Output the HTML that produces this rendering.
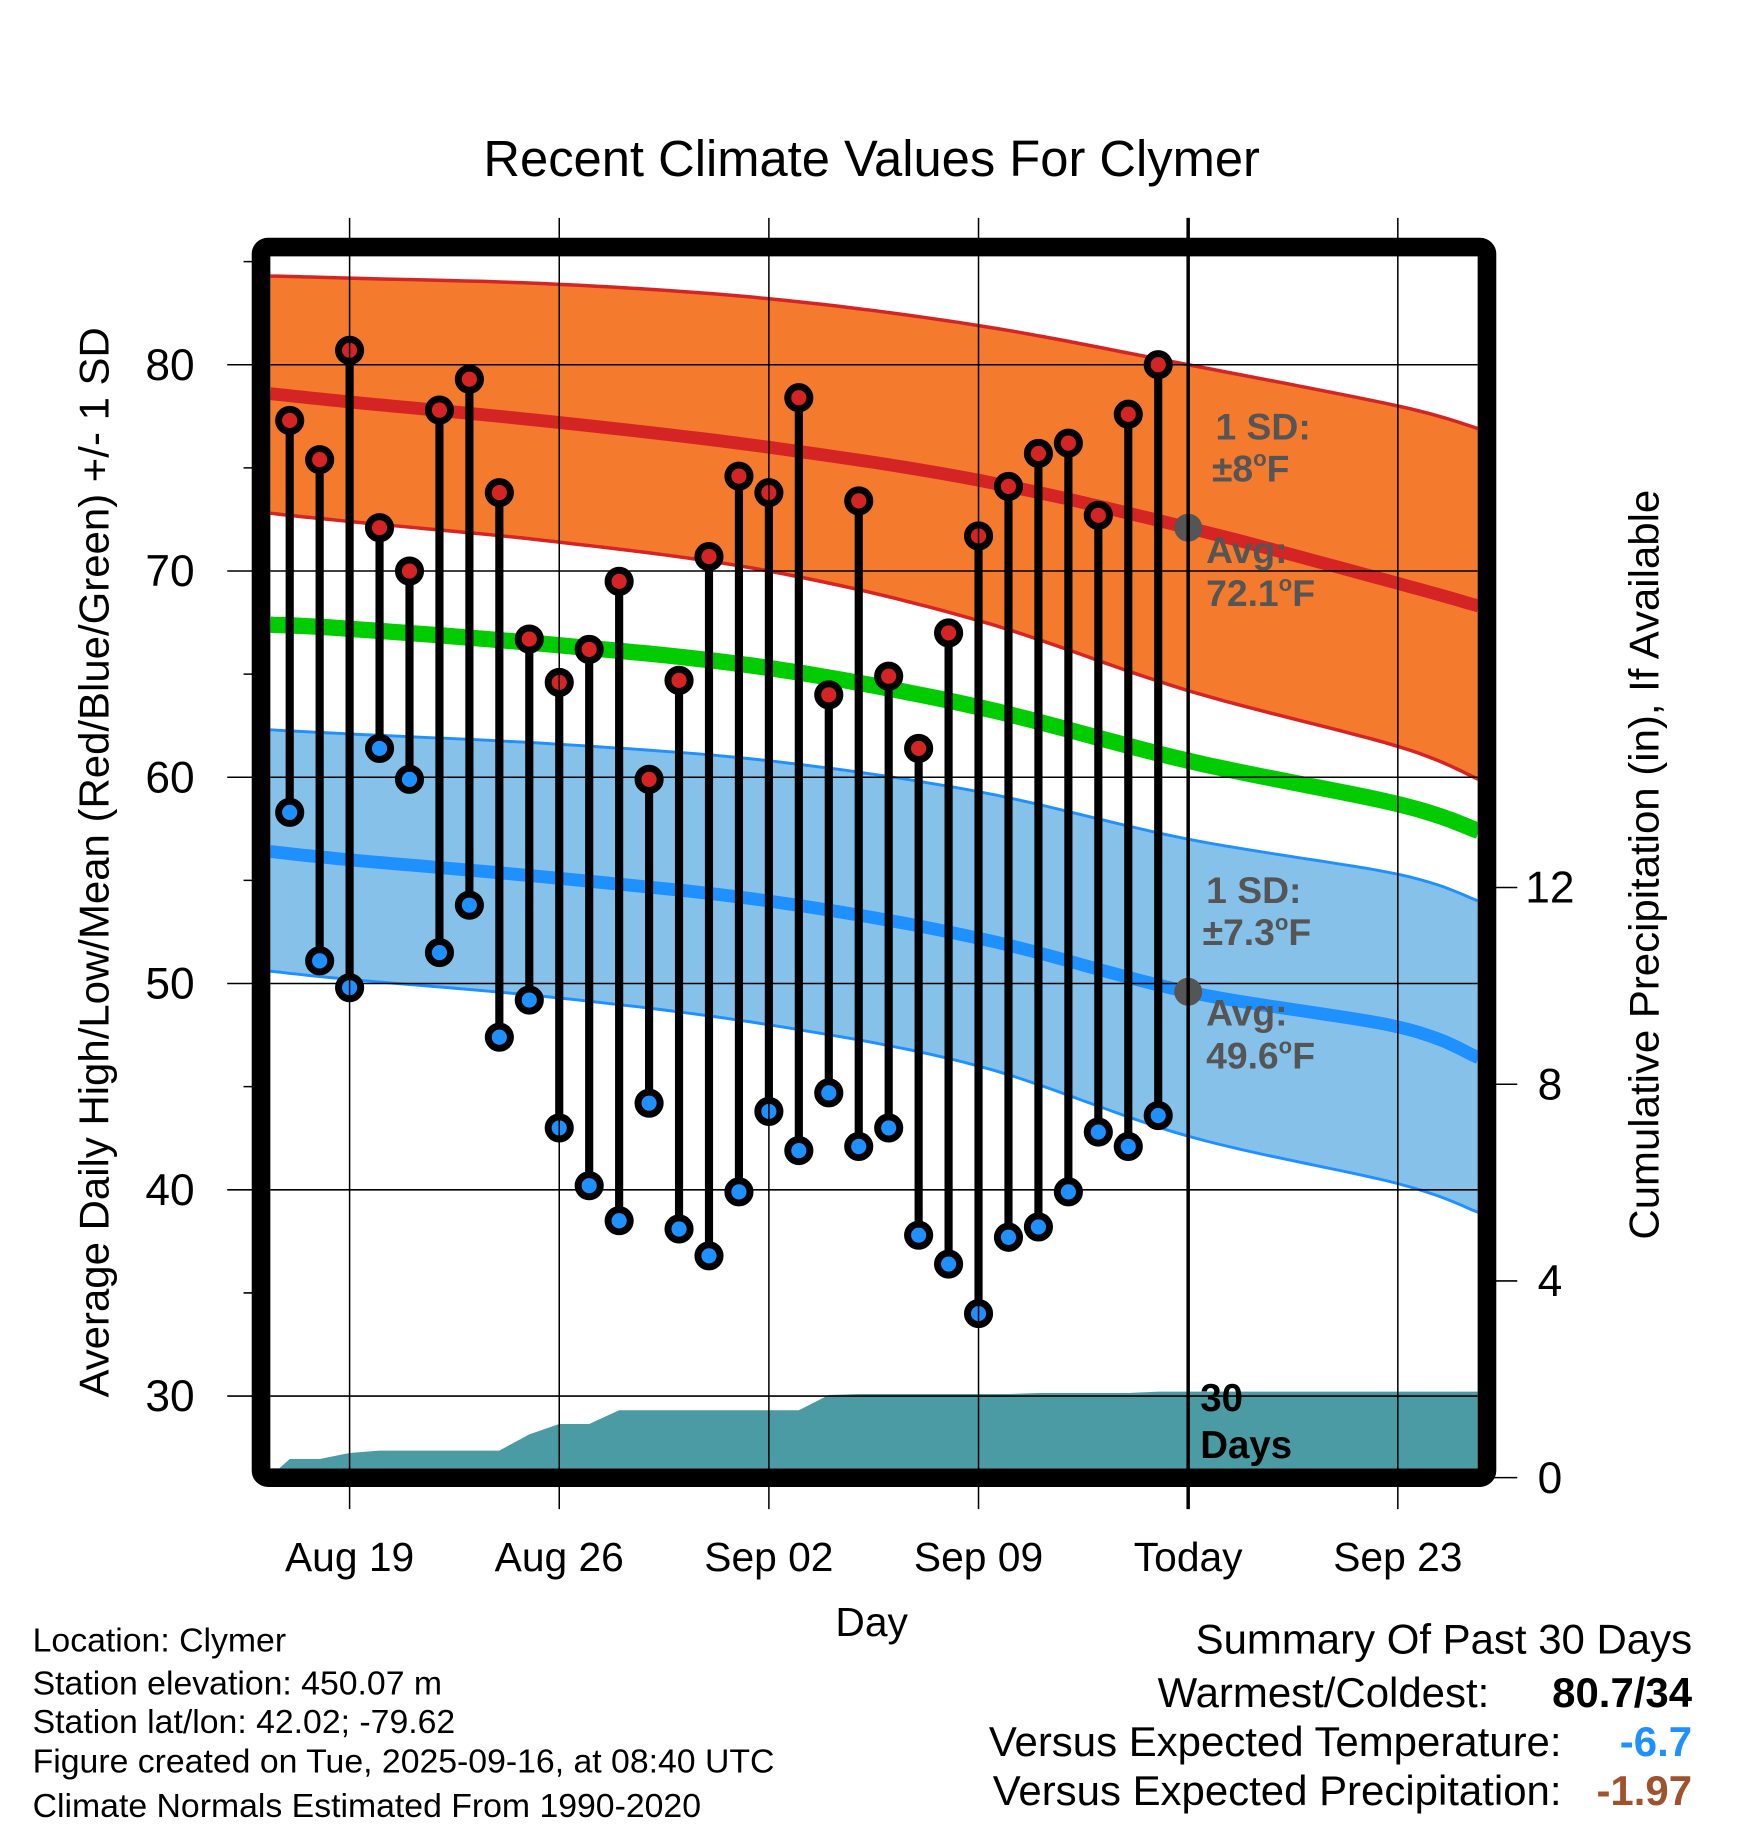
<!DOCTYPE html>
<html><head><meta charset="utf-8"><style>
html,body{margin:0;padding:0;background:#fff}
svg{display:block}
text{font-family:"Liberation Sans",Arial,sans-serif}
</style></head><body>
<svg id="chart" width="1748" height="1828" viewBox="0 0 1500 1568.65" xmlns="http://www.w3.org/2000/svg">
<text x="748" y="151" font-size="43.5" text-anchor="middle">Recent Climate Values For Clymer</text>
<g id="plot"></g>
</svg>
<script>
// ---- data ----
const obsDays = [-2,-1,0,1,2,3,4,5,6,7,8,9,10,11,12,13,14,15,16,17,18,19,20,21,22,23,24,25,26,27];
const highs = [77.3,75.4,80.7,72.1,70.0,77.8,79.3,73.8,66.7,64.6,66.2,69.5,59.9,64.7,70.7,74.6,73.8,78.4,64.0,73.4,64.9,61.4,67.0,71.7,74.1,75.7,76.2,72.7,77.6,80.0];
const lows = [58.3,51.1,49.8,61.4,59.9,51.5,53.8,47.4,49.2,43.0,40.2,38.5,44.2,38.1,36.8,39.9,43.8,41.9,44.7,42.1,43.0,37.8,36.4,34.0,37.7,38.2,39.9,42.8,42.1,43.6];
const precip = [0.38,0.38,0.5,0.55,0.55,0.55,0.55,0.55,0.88,1.09,1.09,1.37,1.37,1.37,1.37,1.37,1.37,1.37,1.68,1.70,1.70,1.70,1.70,1.70,1.70,1.72,1.72,1.72,1.72,1.75];
const normDays = [-2.65,0,7,14,21,28,35,37.7];
const normHigh = [78.6,78.2,77.2,76.0,74.4,72.1,69.4,68.3];
const normHighUp = [84.3,84.2,83.9,83.2,81.9,80.0,78.0,76.9];
const normHighLo = [72.8,72.4,71.4,70.0,67.6,64.2,61.5,59.9];
const normMean = [67.4,67.2,66.4,65.3,63.4,60.8,58.7,57.4];
const normLow = [56.4,56.0,55.1,54.0,52.2,49.6,47.9,46.4];
const normLowUp = [62.3,62.1,61.6,60.8,59.3,57.0,55.3,54.0];
const normLowLo = [50.6,50.2,49.3,48.0,46.0,42.6,40.3,38.9];
const xTickDays = [0,7,14,21,28,35];
const xTickLabels = ["Aug 19","Aug 26","Sep 02","Sep 09","Today","Sep 23"];
const yTicks = [30,40,50,60,70,80];
const yMinor = [35,45,55,65,75,85];
const pTicks = [0,4,8,12];
// ---- scales ----
const X0=232,X1=1268,Y0=220,Y1=1260;
const xs = d => 300 + 25.7*d;
const ys = t => 313 + (80 - t)*17.7;
const ps = p => 1268 - 42.2*p;
const NS="http://www.w3.org/2000/svg";
const g=document.getElementById('plot');
function mk(tag,attrs,parent){const e=document.createElementNS(NS,tag);for(const k in attrs)e.setAttribute(k,attrs[k]);(parent||g).appendChild(e);return e;}
const defs=mk('defs',{});
const cp=mk('clipPath',{id:'clip'},defs);
mk('rect',{x:X0,y:Y0,width:X1-X0,height:Y1-Y0},cp);
const inner=mk('g',{'clip-path':'url(#clip)'});


// smooth curve through normals (Catmull-Rom sampled)
function smooth(arr){
  const pts=normDays.map((d,i)=>[xs(d),ys(arr[i])]);
  const out=[];
  for(let i=0;i<pts.length-1;i++){
    const p0=pts[Math.max(0,i-1)],p1=pts[i],p2=pts[i+1],p3=pts[Math.min(pts.length-1,i+2)];
    for(let k=0;k<12;k++){const t=k/12,t2=t*t,t3=t2*t;
      const f=(a,b,c,d)=>0.5*((2*b)+(-a+c)*t+(2*a-5*b+4*c-d)*t2+(-a+3*b-3*c+d)*t3);
      out.push([f(p0[0],p1[0],p2[0],p3[0]),f(p0[1],p1[1],p2[1],p3[1])]);}
  }
  out.push(pts[pts.length-1]);
  return out;
}
function line(arr){return smooth(arr).map(p=>p[0].toFixed(1)+','+p[1].toFixed(1)).join(' ');}
function band(up,lo){return line(up)+' '+smooth(lo).reverse().map(p=>p[0].toFixed(1)+','+p[1].toFixed(1)).join(' ');}
let e=mk('polygon',{points:band(normHighUp,normHighLo),fill:'#f47a2e'},inner);


e=mk('polygon',{points:band(normLowUp,normLowLo),fill:'#85c1e9'},inner);


[[normHighUp,'#d42424',3],[normHighLo,'#d42424',3],[normHigh,'#d42424',11],[normLowUp,'#1e90ff',2.5],[normLowLo,'#1e90ff',2.5],[normLow,'#1e90ff',11],[normMean,'#00cc00',14]].forEach((s,i)=>{
  const l=mk('polyline',{points:line(s[0]),fill:'none',stroke:s[1],'stroke-width':s[2]},inner);
  
  
});
// precip
let pp=xs(-2.35)+','+Y1+' ';
obsDays.forEach((d,i)=>{pp+=xs(d)+','+ps(precip[i])+' ';});
pp+=X1+','+ps(precip[precip.length-1])+' '+X1+','+Y1;
e=mk('polygon',{points:pp,fill:'#4a9ba3'},inner);


// grid
yTicks.forEach(t=>{mk('line',{x1:X0,x2:X1,y1:ys(t),y2:ys(t),stroke:'#000','stroke-width':1.3},inner);});
xTickDays.forEach(d=>{mk('line',{x1:xs(d),x2:xs(d),y1:187,y2:1295,stroke:'#000','stroke-width':d===28?3:1.3});});
// stems
obsDays.forEach((d,i)=>{
  const s=mk('line',{x1:xs(d),x2:xs(d),y1:ys(highs[i]),y2:ys(lows[i]),stroke:'#000','stroke-width':7},inner);
  
  
});
obsDays.forEach((d,i)=>{
  const h=mk('circle',{cx:xs(d),cy:ys(highs[i]),r:9.5,fill:'#d42424',stroke:'#000','stroke-width':6},inner);
  
  
  const l=mk('circle',{cx:xs(d),cy:ys(lows[i]),r:9.5,fill:'#1e90ff',stroke:'#000','stroke-width':6},inner);
  
  
});
[[72.1],[49.6]].forEach(v=>{const c=mk('circle',{cx:xs(28),cy:ys(v[0]),r:12,fill:'#555'},inner);

});
// frame
e=mk('rect',{x:224,y:212,width:1052,height:1056,rx:6,fill:'none',stroke:'#000','stroke-width':16});


yTicks.forEach(t=>{
  mk('line',{x1:195,x2:224,y1:ys(t),y2:ys(t),stroke:'#000','stroke-width':1.3});
  const tx=mk('text',{x:167,y:ys(t)+13,'font-size':38,'text-anchor':'end'});tx.textContent=t;
  
  
});
yMinor.forEach(t=>{mk('line',{x1:209,x2:224,y1:ys(t),y2:ys(t),stroke:'#000','stroke-width':1.3});});
pTicks.forEach(p=>{
  mk('line',{x1:1276,x2:1302,y1:ps(p),y2:ps(p),stroke:'#000','stroke-width':1.3});
  const tx=mk('text',{x:1330,y:ps(p)+13,'font-size':38,'text-anchor':'middle'});tx.textContent=p;
  
  
});
xTickDays.forEach((d,i)=>{
  const tx=mk('text',{x:xs(d),y:1348,'font-size':35,'text-anchor':'middle'});tx.textContent=xTickLabels[i];
  
  
});
</script>
<svg style="position:absolute;left:0;top:0" width="1748" height="1828" viewBox="0 0 1500 1568.65" xmlns="http://www.w3.org/2000/svg">
<g font-weight="bold" fill="#555" font-size="32" font-family="Liberation Sans, sans-serif">
<text x="1043" y="377">1 SD:</text>
<text x="1040" y="413">±8<tspan font-size="19" dy="-13">o</tspan><tspan dy="13">F</tspan></text>
<text x="1035" y="483">Avg:</text>
<text x="1035" y="520">72.1<tspan font-size="19" dy="-13">o</tspan><tspan dy="13">F</tspan></text>
<text x="1035" y="775">1 SD:</text>
<text x="1032" y="811">±7.3<tspan font-size="19" dy="-13">o</tspan><tspan dy="13">F</tspan></text>
<text x="1035" y="880">Avg:</text>
<text x="1035" y="917">49.6<tspan font-size="19" dy="-13">o</tspan><tspan dy="13">F</tspan></text>
</g>
<g font-weight="bold" fill="#000" font-size="33" font-family="Liberation Sans, sans-serif">
<text x="1030" y="1211">30</text>
<text x="1030" y="1251">Days</text>
</g>
<g font-family="Liberation Sans, sans-serif">
<text x="748" y="1404" font-size="35" text-anchor="middle">Day</text>
<text transform="translate(93,740) rotate(-90)" font-size="36" text-anchor="middle">Average Daily High/Low/Mean (Red/Blue/Green) +/- 1 SD</text>
<text transform="translate(1423,742) rotate(-90)" font-size="36" text-anchor="middle">Cumulative Precipitation (in), If Available</text>
<g font-size="29">
<text x="28" y="1417">Location: Clymer</text>
<text x="28" y="1454">Station elevation: 450.07 m</text>
<text x="28" y="1487">Station lat/lon: 42.02; -79.62</text>
<text x="28" y="1521">Figure created on Tue, 2025-09-16, at 08:40 UTC</text>
<text x="28" y="1559">Climate Normals Estimated From 1990-2020</text>
</g>
<g font-size="36">
<text x="1452" y="1419" text-anchor="end">Summary Of Past 30 Days</text>
<text x="1278" y="1465" text-anchor="end">Warmest/Coldest:</text>
<text x="1452" y="1465" text-anchor="end" font-weight="bold">80.7/34</text>
<text x="1340" y="1507" text-anchor="end">Versus Expected Temperature:</text>
<text x="1452" y="1507" text-anchor="end" font-weight="bold" fill="#1e90ff">-6.7</text>
<text x="1340" y="1549" text-anchor="end">Versus Expected Precipitation:</text>
<text x="1452" y="1549" text-anchor="end" font-weight="bold" fill="#a0522d">-1.97</text>
</g>
</g>
</svg>
</body></html>
